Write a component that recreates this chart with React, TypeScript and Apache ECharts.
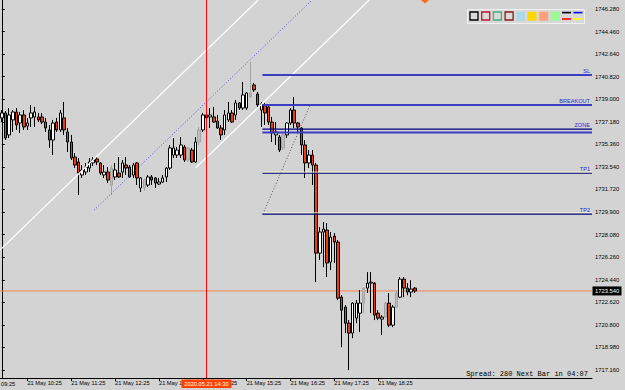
import React, { useEffect, useRef } from "react";
import * as echarts from "echarts";

// ---------- data ----------
const N_SLOTS = 162;
const START_MIN = 9 * 60 + 50;
const pad2 = (n: number) => String(n).padStart(2, "0");
const categories: string[] = Array.from({ length: N_SLOTS }, (_, i) => {
  const t = START_MIN + 5 * i;
  return `21 May ${pad2(Math.floor(t / 60))}:${pad2(t % 60)}`;
});

// [open, close, low, high]
const candles: number[][] = [
  [1737.49, 1737.89, 1737.16, 1738.13],
  [1737.89, 1735.87, 1735.71, 1738.05],
  [1736.12, 1737.73, 1735.87, 1738.29],
  [1737.33, 1737.97, 1736.36, 1738.13],
  [1737.97, 1736.92, 1736.52, 1738.29],
  [1737.08, 1737.73, 1736.28, 1737.97],
  [1737.73, 1736.76, 1736.52, 1738.13],
  [1736.84, 1737.08, 1736.52, 1737.49],
  [1737.49, 1737.89, 1736.76, 1738.54],
  [1737.57, 1737.97, 1736.76, 1738.38],
  [1737.57, 1737.33, 1737.16, 1737.89],
  [1737.57, 1737.16, 1737.0, 1737.89],
  [1737.16, 1736.68, 1736.36, 1737.49],
  [1736.52, 1735.71, 1735.07, 1736.92],
  [1735.71, 1737.08, 1734.5, 1737.33],
  [1737.16, 1736.52, 1736.36, 1737.49],
  [1736.52, 1737.89, 1736.36, 1738.13],
  [1737.49, 1736.52, 1736.12, 1738.78],
  [1736.36, 1735.55, 1734.74, 1736.68],
  [1735.55, 1734.26, 1734.1, 1736.12],
  [1734.34, 1733.69, 1733.45, 1734.66],
  [1733.94, 1733.05, 1731.27, 1734.26],
  [1732.89, 1733.29, 1732.65, 1733.69],
  [1733.13, 1733.53, 1732.89, 1733.86],
  [1733.45, 1733.94, 1733.13, 1734.26],
  [1733.86, 1734.1, 1733.61, 1734.34],
  [1734.18, 1733.94, 1733.69, 1734.34],
  [1733.86, 1733.05, 1732.89, 1733.94],
  [1732.89, 1733.13, 1732.65, 1733.69],
  [1733.13, 1732.48, 1732.24, 1733.53],
  [1732.08, 1733.45, 1731.27, 1733.69],
  [1732.73, 1733.29, 1732.48, 1733.86],
  [1733.05, 1732.73, 1732.65, 1734.34],
  [1733.13, 1733.86, 1732.65, 1734.1],
  [1733.69, 1733.45, 1732.89, 1734.34],
  [1733.53, 1732.73, 1732.65, 1733.69],
  [1732.89, 1733.69, 1732.65, 1733.86],
  [1733.86, 1732.65, 1732.08, 1733.94],
  [1731.84, 1732.65, 1731.52, 1732.73],
  [1731.84, 1732.48, 1731.6, 1732.6],
  [1732.08, 1732.73, 1731.92, 1732.89],
  [1732.73, 1732.48, 1732.08, 1732.89],
  [1732.65, 1732.24, 1731.84, 1732.73],
  [1732.16, 1732.32, 1732.08, 1732.65],
  [1732.32, 1732.65, 1732.24, 1732.89],
  [1732.73, 1733.45, 1732.32, 1733.53],
  [1733.45, 1735.07, 1733.29, 1735.31],
  [1734.5, 1735.07, 1734.26, 1735.87],
  [1734.5, 1734.9, 1734.26, 1735.15],
  [1734.5, 1735.31, 1734.26, 1735.95],
  [1735.15, 1734.1, 1733.94, 1735.31],
  [1734.1, 1735.07, 1733.94, 1735.15],
  [1734.9, 1733.94, 1733.86, 1735.07],
  [1733.94, 1735.55, 1733.86, 1735.95],
  [1735.55, 1736.52, 1735.31, 1736.76],
  [1736.52, 1737.73, 1736.36, 1737.89],
  [1737.73, 1737.49, 1737.33, 1737.97],
  [1737.57, 1737.73, 1736.68, 1738.29],
  [1737.57, 1737.16, 1737.08, 1738.38],
  [1737.24, 1736.68, 1736.6, 1737.73],
  [1736.68, 1736.12, 1735.71, 1736.92],
  [1736.52, 1737.73, 1736.12, 1738.13],
  [1737.33, 1737.89, 1737.16, 1738.78],
  [1737.89, 1737.16, 1737.08, 1738.13],
  [1737.73, 1738.7, 1737.33, 1738.94],
  [1738.7, 1738.29, 1738.13, 1738.78],
  [1738.29, 1739.34, 1738.13, 1740.39],
  [1738.29, 1739.5, 1738.13, 1739.58],
  [1739.18, 1739.5, 1739.1, 1742.01],
  [1740.15, 1739.75, 1739.59, 1740.31],
  [1739.42, 1738.54, 1738.38, 1739.59],
  [1738.13, 1738.62, 1736.76, 1738.78],
  [1738.54, 1737.89, 1736.92, 1738.7],
  [1738.38, 1737.16, 1736.92, 1738.54],
  [1737.16, 1736.28, 1735.55, 1737.57],
  [1736.12, 1736.36, 1735.31, 1737.16],
  [1735.95, 1734.9, 1734.74, 1736.12],
  [1735.07, 1736.12, 1734.9, 1736.28],
  [1736.12, 1737.08, 1735.87, 1737.16],
  [1737.08, 1738.13, 1736.92, 1738.29],
  [1738.13, 1737.08, 1736.68, 1739.18],
  [1737.08, 1736.76, 1736.28, 1737.16],
  [1736.68, 1735.31, 1734.5, 1736.76],
  [1735.31, 1733.86, 1732.65, 1735.71],
  [1733.86, 1734.5, 1733.45, 1734.9],
  [1734.5, 1733.69, 1732.08, 1734.9],
  [1733.69, 1726.59, 1724.25, 1733.86],
  [1726.59, 1728.29, 1726.03, 1728.69],
  [1728.29, 1728.53, 1725.46, 1729.09],
  [1728.45, 1725.79, 1724.66, 1729.01],
  [1725.87, 1727.88, 1725.22, 1728.29],
  [1727.96, 1727.48, 1725.79, 1728.21],
  [1727.48, 1722.96, 1722.8, 1727.64],
  [1723.04, 1721.99, 1719.01, 1723.2],
  [1722.24, 1720.94, 1720.14, 1722.4],
  [1720.94, 1720.14, 1717.15, 1721.19],
  [1720.14, 1722.56, 1719.73, 1722.64],
  [1721.35, 1722.56, 1720.94, 1722.8],
  [1721.75, 1722.56, 1720.22, 1723.61],
  [1722.56, 1723.77, 1721.75, 1723.85],
  [1723.77, 1724.17, 1723.37, 1725.06],
  [1724.17, 1724.25, 1721.75, 1725.06],
  [1724.17, 1721.59, 1721.19, 1724.25],
  [1721.75, 1721.35, 1721.19, 1721.99],
  [1721.27, 1721.43, 1719.98, 1721.59],
  [1721.43, 1722.56, 1721.35, 1722.64],
  [1722.56, 1720.78, 1720.62, 1723.37],
  [1720.78, 1722.24, 1720.62, 1722.4],
  [1722.24, 1723.37, 1722.16, 1723.53],
  [1723.04, 1724.49, 1722.96, 1724.66],
  [1724.49, 1723.77, 1723.04, 1724.66],
  [1723.77, 1723.45, 1723.2, 1724.17],
  [1723.45, 1723.69, 1723.04, 1724.41],
  [1723.77, 1723.54, 1723.37, 1723.85],
];
const grayIdx: number[] = [30, 39, 51, 54, 68, 77, 99, 105, 108];

const Y_MIN = 1716.52;
const Y_MAX = 1747.0;
const yTicks: number[] = [
  1717.16, 1718.98, 1720.8, 1722.62, 1724.44, 1726.26, 1728.08, 1729.9, 1731.72,
  1733.54, 1735.36, 1737.18, 1739.0, 1740.82, 1742.64, 1744.46, 1746.28,
];

// trend lines: [slotIndex, price] endpoints
const channelUpper: number[][] = [[-0.5, 1726.84], [70.15, 1747.0]];
const channelLower: number[][] = [[53.04, 1733.45], [100.54, 1747.0]];
const blueDotted: number[][] = [[25.25, 1730.06], [84.92, 1747.0]];
const grayDotted: number[][] = [[71.43, 1729.74], [84.38, 1738.54]];

const levelStart = 71.3;
const levelLabels: string[] = ["SL", "BREAKOUT", "ZONE", "TP1", "TP2"];
const levelPrices: number[] = [1740.96, 1738.54, 1736.32, 1733.03, 1729.74];
const zoneUpperPrice = 1736.58;

const vLineIdx = 56;
const vLineLabel = "2020.05.21 14:30";
const spreadPoints = 280;
const nextBarIn = "04:07";

const legendOutlines: string[] = ["#000000", "#c8102e", "#3cb371", "#8b1a1a"];
const legendFills: string[] = ["#add8e6", "#ffd700", "#ffa07a", "#98fb98"];

export default function App() {
  const ref = useRef<HTMLDivElement>(null);
  useEffect(() => {
    document.body.style.margin = "0";
    const chart = echarts.init(ref.current!, undefined, { renderer: "svg" });
    const lastClose = candles[candles.length - 1][1];
    const xMax = N_SLOTS - 0.5;
    const seg = (pts: number[][], color: string, width: number, type: any = "solid", z = 4) => ({
      type: "line",
      xAxisIndex: 1,
      yAxisIndex: 0,
      data: pts,
      symbol: "none",
      silent: true,
      z,
      lineStyle: { color, width, type },
    });
    const showIdx = (i: number) => i >= 7 && (i - 7) % 12 === 0 && i < candles.length;
    const font = "Liberation Sans";

    const series: any[] = [
      seg([[-0.5, lastClose], [xMax, lastClose]], "#f4874b", 1, "solid", 2),
      {
        type: "candlestick",
        xAxisIndex: 0,
        yAxisIndex: 0,
        barWidth: 3,
        z: 3,
        data: candles.map((c, i) =>
          grayIdx.includes(i)
            ? {
                value: c,
                itemStyle: { color: "#bdbdbd", color0: "#bdbdbd", borderColor: "#a3a3a3", borderColor0: "#a3a3a3" },
              }
            : c
        ),
        itemStyle: { color: "#ffffff", color0: "#f03c0a", borderColor: "#000000", borderColor0: "#000000", borderWidth: 1 },
      },
      seg(channelUpper, "#ffffff", 1.2),
      seg(channelLower, "#ffffff", 1.2),
      seg(blueDotted, "#5050e0", 1, [1, 2]),
      seg(grayDotted, "#555555", 1, [1, 2]),
      seg([[vLineIdx, Y_MIN], [vLineIdx, Y_MAX]], "#ff0000", 1, "solid", 5),
      seg([[levelStart, levelPrices[0]], [xMax, levelPrices[0]]], "#3d3dc4", 2),
      seg([[levelStart, levelPrices[1]], [xMax, levelPrices[1]]], "#3d3dc4", 2),
      seg([[levelStart, zoneUpperPrice], [xMax, zoneUpperPrice]], "#000080", 1.2),
      seg([[levelStart, levelPrices[2]], [xMax, levelPrices[2]]], "#3d3dc4", 2),
      seg([[levelStart, levelPrices[3] + 0.09], [xMax, levelPrices[3] + 0.09]], "#ffffc8", 1),
      seg([[levelStart, levelPrices[3]], [xMax, levelPrices[3]]], "#000080", 1.2),
      seg([[levelStart, levelPrices[4] + 0.09], [xMax, levelPrices[4] + 0.09]], "#ffffc8", 1),
      seg([[levelStart, levelPrices[4]], [xMax, levelPrices[4]]], "#000080", 1.2),
    ];

    chart.setOption({
      animation: false,
      backgroundColor: "#d3d3d3",
      grid: { left: -1.5, right: 33, top: 0, bottom: 12, containLabel: false },
      xAxis: [
        {
          type: "category",
          data: categories,
          boundaryGap: true,
          axisLine: { show: true, lineStyle: { color: "#000000", width: 1 } },
          axisTick: { show: true, alignWithLabel: true, interval: (i: number) => showIdx(i), length: 3, lineStyle: { color: "#000000" } },
          axisLabel: {
            interval: (i: number) => showIdx(i),
            align: "left",
            color: "#000000",
            fontSize: 5.7,
            fontFamily: font,
            margin: 2,
          },
          splitLine: { show: false },
        },
        { type: "value", min: -0.5, max: xMax, show: false },
      ],
      yAxis: {
        type: "value",
        position: "right",
        min: Y_MIN,
        max: Y_MAX,
        axisLine: { show: true, lineStyle: { color: "#000000", width: 1 } },
        axisTick: { show: true, customValues: yTicks, length: 3, lineStyle: { color: "#000000" } },
        axisLabel: {
          customValues: yTicks,
          formatter: (v: number) => v.toFixed(3),
          color: "#000000",
          fontSize: 5.8,
          fontFamily: font,
          margin: 3,
        },
        splitLine: { show: false },
      },
      series,
    });

    const px = (i: number) => chart.convertToPixel({ xAxisIndex: 1 } as any, i) as number;
    const py = (p: number) => chart.convertToPixel({ yAxisIndex: 0 } as any, p) as number;

    const labelFont = `5.6px "${font}"`;
    const g: any[] = [];
    levelLabels.forEach((t, k) => {
      const price = t === "ZONE" ? zoneUpperPrice : levelPrices[k];
      g.push({
        type: "text",
        x: 590,
        y: py(price) - 1,
        z: 20,
        style: { text: t, fill: "#2a2ad2", font: labelFont, align: "right", verticalAlign: "bottom" },
      });
    });
    // current price box
    const cy = py(lastClose);
    g.push({ type: "rect", z: 20, shape: { x: 592.5, y: cy - 4.5, width: 29, height: 9 }, style: { fill: "#000000" } });
    g.push({
      type: "text",
      z: 21,
      x: 595,
      y: cy,
      style: { text: lastClose.toFixed(3), fill: "#ffffff", font: `5.8px "${font}"`, align: "left", verticalAlign: "middle" },
    });
    // vertical line time label
    const vx = px(vLineIdx);
    g.push({ type: "rect", z: 20, shape: { x: vx - 25, y: 379.5, width: 50, height: 8.5 }, style: { fill: "#ff4200" } });
    g.push({
      type: "text",
      z: 21,
      x: vx,
      y: 383.8,
      style: { text: vLineLabel, fill: "#ffffff", font: `5.7px "${font}"`, align: "center", verticalAlign: "middle" },
    });
    // clipped first time label
    g.push({
      type: "text",
      z: 20,
      x: 1,
      y: 383.5,
      style: { text: "09:25", fill: "#000000", font: `5.7px "${font}"`, align: "left", verticalAlign: "middle" },
    });
    // spread info
    g.push({
      type: "text",
      z: 20,
      x: 588,
      y: 373.5,
      style: {
        text: `Spread: ${spreadPoints} Next Bar in ${nextBarIn}`,
        fill: "#000000",
        font: `7px "Liberation Mono"`,
        align: "right",
        verticalAlign: "middle",
      },
    });
    // toolbar
    g.push({ type: "rect", z: 20, shape: { x: 467.5, y: 9.5, width: 117, height: 14 }, style: { fill: "#d8d8d8", stroke: "#f0f0f0", lineWidth: 1 } });
    legendOutlines.forEach((c, k) => {
      g.push({
        type: "rect",
        z: 21,
        shape: { x: 470 + k * 11.7, y: 12, width: 8, height: 8 },
        style: { fill: "#dadada", stroke: c, lineWidth: 1.3 },
      });
    });
    legendFills.forEach((c, k) => {
      g.push({
        type: "rect",
        z: 21,
        shape: { x: 516 + k * 11.6, y: 11.7, width: 9, height: 9 },
        style: { fill: c },
      });
    });
    const lineIcon = (x: number, top: string, bottom: string) => {
      g.push({ type: "line", z: 21, shape: { x1: x, y1: 12.6, x2: x + 9, y2: 12.6 }, style: { stroke: top, lineWidth: 1.6 } });
      g.push({ type: "line", z: 21, shape: { x1: x, y1: 19, x2: x + 9, y2: 19 }, style: { stroke: bottom, lineWidth: 1.6 } });
    };
    lineIcon(562, "#000000", "#ff0000");
    lineIcon(573.5, "#0000ff", "#ffff00");
    // small marker at the top
    g.push({ type: "polygon", z: 20, shape: { points: [[421, 0], [429, 0], [425, 3.5]] }, style: { fill: "#ff6a1a" } });

    chart.setOption({ graphic: g });
    return () => chart.dispose();
  }, []);
  return <div ref={ref} style={{ width: 625, height: 390, position: "absolute", left: 0, top: 0 }} />;
}
